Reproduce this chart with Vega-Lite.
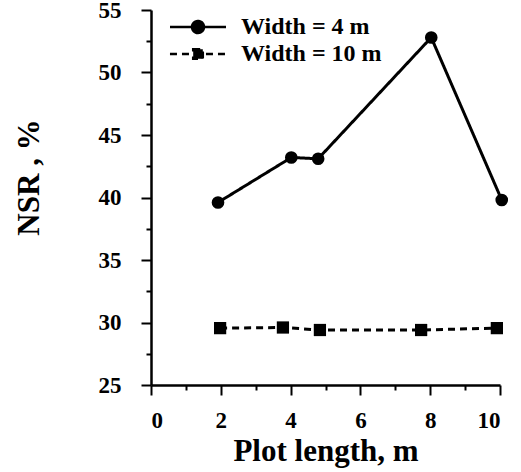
{
  "$schema": "https://vega.github.io/schema/vega-lite/v6.json",
  "width": 349,
  "height": 375,
  "autosize": "none",
  "padding": {"left": 151, "top": 10, "right": 21, "bottom": 87},
  "background": "white",
  "config": {
    "view": {"stroke": null},
    "font": "Liberation Serif",
    "axis": {
      "domainColor": "black",
      "domainWidth": 2.5,
      "tickColor": "black",
      "tickWidth": 2,
      "grid": false,
      "labelColor": "black",
      "titleColor": "black"
    }
  },
  "data": {
    "values": [
      {"series": "Width = 4 m", "length": 1.92, "nsr": 39.6},
      {"series": "Width = 4 m", "length": 4.02, "nsr": 43.2},
      {"series": "Width = 4 m", "length": 4.79, "nsr": 43.1},
      {"series": "Width = 4 m", "length": 8.03, "nsr": 52.8},
      {"series": "Width = 4 m", "length": 10.05, "nsr": 39.8},
      {"series": "Width = 10 m", "length": 1.98, "nsr": 29.55},
      {"series": "Width = 10 m", "length": 3.78, "nsr": 29.6},
      {"series": "Width = 10 m", "length": 4.84, "nsr": 29.4},
      {"series": "Width = 10 m", "length": 7.74, "nsr": 29.4},
      {"series": "Width = 10 m", "length": 9.91, "nsr": 29.55}
    ]
  },
  "encoding": {
    "x": {
      "field": "length",
      "type": "quantitative",
      "title": "Plot length, m",
      "scale": {"domain": [0, 10], "nice": false},
      "axis": {
        "values": [0, 1, 2, 3, 4, 5, 6, 7, 8, 9, 10],
        "labelExpr": "datum.value % 2 === 0 ? datum.label : ''",
        "tickSize": {"condition": {"test": "datum.value % 2 === 0", "value": 10}, "value": 5},
        "labelFont": "Liberation Serif",
        "labelFontWeight": "bold",
        "labelFontSize": 23,
        "titleFont": "Liberation Serif",
        "titleFontWeight": "bold",
        "titleFontSize": 31,
        "labelPadding": 14,
        "titlePadding": 4
      }
    },
    "y": {
      "field": "nsr",
      "type": "quantitative",
      "title": "NSR , %",
      "scale": {"domain": [25, 55], "nice": false, "zero": false},
      "axis": {
        "values": [25, 27.5, 30, 32.5, 35, 37.5, 40, 42.5, 45, 47.5, 50, 52.5, 55],
        "labelExpr": "datum.value % 5 === 0 ? datum.label : ''",
        "tickSize": {"condition": {"test": "datum.value % 5 === 0", "value": 10}, "value": 5},
        "labelFont": "Liberation Serif",
        "labelFontWeight": "bold",
        "labelFontSize": 23,
        "titleFont": "Liberation Serif",
        "titleFontWeight": "bold",
        "titleFontSize": 31,
        "labelPadding": 20,
        "titleX": -122,
        "titleY": 167,
        "titleBaseline": "middle",
        "titleAlign": "center"
      }
    }
  },
  "layer": [
    {
      "mark": {"type": "line", "color": "black", "strokeWidth": 3},
      "encoding": {
        "strokeDash": {
          "field": "series",
          "type": "nominal",
          "scale": {"domain": ["Width = 4 m", "Width = 10 m"], "range": [[1, 0], [7, 5]]},
          "legend": {
            "title": null,
            "orient": "none",
            "legendX": 35,
            "legendY": 5,
            "padding": 0,
            "symbolSize": 144,
            "symbolType": {"expr": "datum.value === 'Width = 4 m' ? 'M-4.67,0H4.67M-1,0A1,1 0 1,1 1,0A1,1 0 1,1 -1,0Z' : 'M-4.67,0H4.67M-0.8,-0.8H0.8V0.8H-0.8Z'"},
            "symbolFillColor": "black",
            "symbolStrokeColor": "black",
            "symbolStrokeWidth": 2.5,
            "labelOffset": 31,
            "rowPadding": 3,
            "labelFont": "Liberation Serif",
            "labelFontWeight": "bold",
            "labelFontSize": 24,
            "labelColor": "black"
          }
        }
      }
    },
    {
      "transform": [{"filter": "datum.series === 'Width = 4 m'"}],
      "mark": {"type": "point", "shape": "circle", "filled": true, "color": "black", "size": 160, "opacity": 1}
    },
    {
      "transform": [{"filter": "datum.series === 'Width = 10 m'"}],
      "mark": {"type": "point", "shape": "square", "filled": true, "color": "black", "size": 150, "opacity": 1}
    }
  ]
}
